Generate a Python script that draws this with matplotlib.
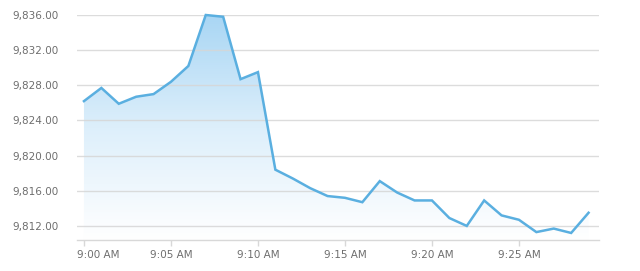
import numpy as np
import matplotlib
matplotlib.use("Agg")
import matplotlib.pyplot as plt
import matplotlib.transforms as mtransforms
from matplotlib.colors import LinearSegmentedColormap

# minute index from 9:00 AM, one point per minute
minutes = list(range(30))
prices = [9826.2, 9827.7, 9825.9, 9826.7, 9827.0, 9828.4, 9830.2, 9836.0, 9835.8, 9828.7,
          9829.5, 9818.4, 9817.4, 9816.3, 9815.4, 9815.2, 9814.7, 9817.1, 9815.8, 9814.9,
          9814.9, 9812.9, 9812.0, 9814.9, 9813.2, 9812.7, 9811.3, 9811.7, 9811.2, 9813.5]
x_ticks = [0, 5, 10, 15, 20, 25]
x_labels = ["9:00 AM", "9:05 AM", "9:10 AM", "9:15 AM", "9:20 AM", "9:25 AM"]
y_ticks = [9812, 9816, 9820, 9824, 9828, 9832, 9836]

line_color = "#5aafe0"
text_color = "#6e6e6e"

fig = plt.figure(figsize=(6.4, 2.71), dpi=100)
ax = fig.add_axes([77 / 640, 31 / 271, 522 / 640, 225 / 271])

ymin, ymax = 9810.4, 9836.0
ax.set_xlim(-0.4, 29.6)
ax.set_ylim(ymin, ymax)

# gradient fill under the line
cmap = LinearSegmentedColormap.from_list("fade", ["#ffffff", "#ddeffb", "#a9d6f4"])
grad = np.linspace(0, 1, 256).reshape(-1, 1)
img = ax.imshow(grad, cmap=cmap, aspect="auto", origin="lower",
                extent=[-0.4, 29.6, ymin, ymax], zorder=1)
poly = ax.fill_between(minutes, prices, ymin, color="none", lw=0)
clip = poly.get_paths()[0]
img.set_clip_path(clip, ax.transData)

ax.plot(minutes, prices, color=line_color, lw=1.8, zorder=3, clip_on=False,
        solid_joinstyle="miter")

ax.set_yticks(y_ticks)
ax.set_yticklabels([f"{v:,.2f}" for v in y_ticks])
ax.set_xticks(x_ticks)
ax.set_xticklabels(x_labels)

# grid shows through the fill
for v in y_ticks:
    ax.axhline(v, color="#d6d6d6", lw=1, alpha=0.85, zorder=2)
for s in ["top", "right", "left"]:
    ax.spines[s].set_visible(False)
ax.spines["bottom"].set_color("#d8d8d8")
ax.spines["bottom"].set_linewidth(1)

ax.tick_params(axis="y", length=0, pad=13, labelsize=7.5, labelcolor=text_color)
ax.tick_params(axis="x", length=4.5, width=1, color="#d8d8d8", pad=3,
               labelsize=7.5, labelcolor=text_color)

# first label is nudged right like the original
first = ax.get_xticklabels()[0]
first.set_transform(first.get_transform() +
                    mtransforms.ScaledTranslation(14 / 100, 0, fig.dpi_scale_trans))

fig.savefig("out.png", dpi=100)
